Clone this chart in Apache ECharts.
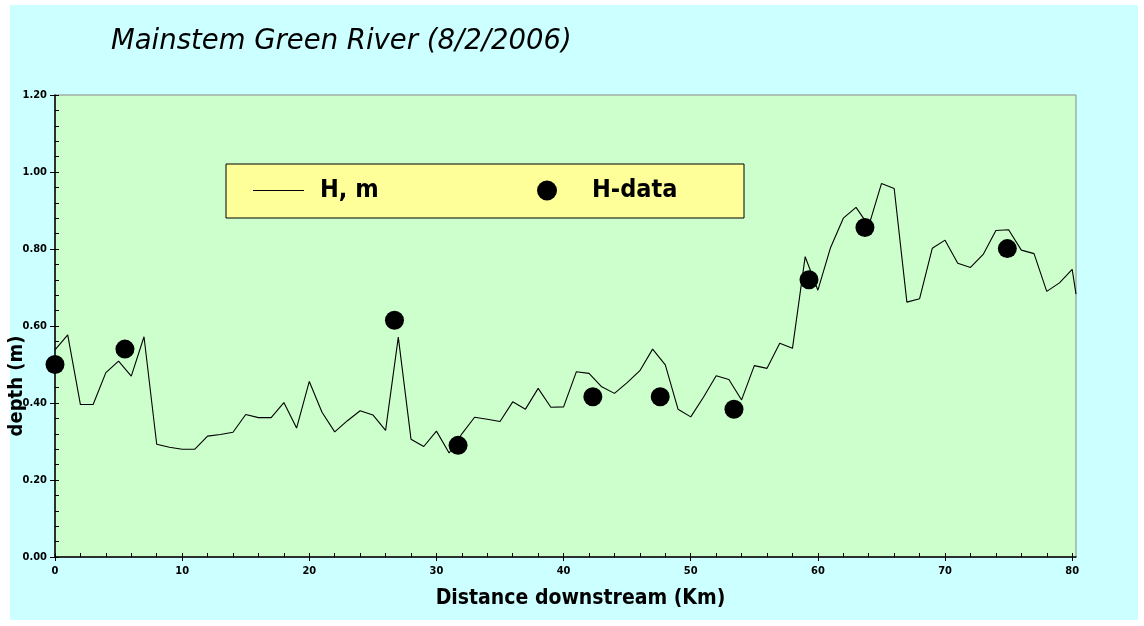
<!DOCTYPE html>
<html>
<head>
<meta charset="utf-8">
<script src="https://cdn.jsdelivr.net/npm/echarts@6/dist/echarts.min.js"></script>
<style>
html,body{margin:0;padding:0;background:#ffffff;}
#chart{width:1144px;height:626px;}
</style>
</head>
<body>
<div id="chart"></div>
<script>
// Simulated depth H, m : [distance km, depth m]
const modelKm = [0,1,2,3,4,5,6,7,8,9,10,11,12,13,14,15,16,17,18,19,20,21,22,23,24,25,26,27,28,29,30,31,32,33,34,35,36,37,38,39,40,41,42,43,44,45,46,47,48,49,50,51,52,53,54,55,56,57,58,59,60,61,62,63,64,65,66,67,68,69,70,71,72,73,74,75,76,77,78,79,80,80.3];
const modelDepth = [0.538,0.577,0.396,0.396,0.479,0.509,0.470,0.572,0.293,0.285,0.280,0.280,0.314,0.318,0.324,0.370,0.362,0.362,0.401,0.335,0.456,0.376,0.325,0.354,0.380,0.369,0.329,0.571,0.306,0.287,0.327,0.270,0.320,0.363,0.358,0.352,0.403,0.384,0.438,0.389,0.390,0.481,0.477,0.442,0.425,0.453,0.484,0.540,0.499,0.384,0.364,0.415,0.471,0.461,0.408,0.497,0.490,0.555,0.542,0.780,0.693,0.804,0.880,0.908,0.860,0.970,0.957,0.662,0.671,0.802,0.823,0.763,0.752,0.786,0.848,0.850,0.797,0.788,0.690,0.712,0.747,0.683];
// Observed depth H-data
const obsKm = [0,5.5,26.7,31.7,42.3,47.6,53.4,59.3,63.7,74.9];
const obsDepth = [0.50,0.54,0.615,0.29,0.416,0.416,0.384,0.720,0.856,0.801];
// Tick values
const xMajorTicks = [0,10,20,30,40,50,60,70,80];
const xMinorTicks = [0,2,4,6,8,10,12,14,16,18,20,22,24,26,28,30,32,34,36,38,40,42,44,46,48,50,52,54,56,58,60,62,64,66,68,70,72,74,76,78,80];
const yMinorTicks = [0,0.04,0.08,0.12,0.16,0.2,0.24,0.28,0.32,0.36,0.4,0.44,0.48,0.52,0.56,0.6,0.64,0.68,0.72,0.76,0.8,0.84,0.88,0.92,0.96,1.0,1.04,1.08,1.12,1.16,1.2];

const titleText = 'Mainstem Green River (8/2/2006)';
const lineName = 'H, m';
const dotName = 'H-data';
const xName = 'Distance downstream (Km)';
const yName = 'depth (m)';

const NARROW = "'Liberation Sans Narrow','Arial Narrow','DejaVu Sans Condensed',sans-serif";

const chart = echarts.init(document.getElementById('chart'), null, {renderer:'canvas'});
const X_MAX = 80.3;
chart.setOption({
  animation: false,
  backgroundColor: '#ffffff',
  graphic: [
    {type:'rect', z:-10, silent:true, shape:{x:10,y:5,width:1128,height:615}, style:{fill:'#CCFFFF'}},
    {type:'rect', z:3, silent:true, shape:{x:226,y:164,width:518,height:54}, style:{fill:'#FFFF99', stroke:'#000000', lineWidth:1}}
  ],
  title: {
    text: titleText, left: 106, top: 23,
    textStyle: {fontFamily:"'DejaVu Sans',Verdana,sans-serif", fontStyle:'italic', fontWeight:'normal', fontSize:27.5, color:'#000'}
  },
  legend: [
    {data:[{name:lineName, icon:'path://M0,0L51,0L51,1L0,1Z', textStyle:{padding:[0,0,0,11]}}], left:253, top:178, padding:0, itemWidth:51, itemHeight:20, z:10,
     itemStyle:{color:'#000', borderWidth:0},
     textStyle:{fontFamily:NARROW, fontWeight:'bold', fontSize:25, color:'#000'}},
    {data:[{name:dotName, icon:'circle', textStyle:{padding:[0,0,0,30]}}], left:537, top:178, padding:0, itemWidth:20, itemHeight:20, z:10,
     itemStyle:{color:'#000', opacity:1},
     textStyle:{fontFamily:NARROW, fontWeight:'bold', fontSize:25, color:'#000'}}
  ],
  grid: {left:55, right:68, top:95, bottom:69, containLabel:false, outerBoundsMode:'none', show:true, backgroundColor:'#CCFFCC', borderColor:'#888888', borderWidth:1},
  xAxis: [
    {type:'value', min:0, max:X_MAX, position:'bottom',
     name:xName, nameLocation:'middle', nameGap:31, nameMoveOverlap:false,
     nameTextStyle:{fontFamily:NARROW, fontWeight:'bold', fontSize:21, color:'#000', padding:[0,0,0,30]},
     axisLine:{show:true, onZero:false, lineStyle:{color:'#000', width:1.5}},
     axisTick:{show:true, inside:false, length:4, customValues:xMajorTicks, lineStyle:{color:'#000'}},
     axisLabel:{customValues:xMajorTicks, margin:9, fontFamily:NARROW, fontWeight:'bold', fontSize:11, color:'#000'},
     splitLine:{show:false}},
    {type:'value', min:0, max:X_MAX, position:'bottom',
     axisLine:{show:false}, axisLabel:{show:false}, splitLine:{show:false},
     axisTick:{show:true, inside:true, length:4, customValues:xMinorTicks, lineStyle:{color:'#000'}}}
  ],
  yAxis: [
    {type:'value', min:0, max:1.2, interval:0.2, position:'left',
     name:yName, nameLocation:'middle', nameGap:28, nameRotate:90, nameMoveOverlap:false,
     nameTextStyle:{fontFamily:NARROW, fontWeight:'bold', fontSize:20, color:'#000', padding:[0,120,0,0]},
     axisLine:{show:true, onZero:false, lineStyle:{color:'#000', width:1.5}},
     axisTick:{show:true, inside:false, length:5, lineStyle:{color:'#000'}},
     axisLabel:{margin:8, formatter:(v)=>v.toFixed(2), fontFamily:NARROW, fontWeight:'bold', fontSize:11, color:'#000'},
     splitLine:{show:false}},
    {type:'value', min:0, max:1.2, position:'left',
     axisLine:{show:false}, axisLabel:{show:false}, splitLine:{show:false},
     axisTick:{show:true, inside:true, length:4, customValues:yMinorTicks, lineStyle:{color:'#000'}}}
  ],
  series: [
    {name:lineName, type:'line', xAxisIndex:0, yAxisIndex:0, symbol:'none', clip:true,
     lineStyle:{color:'#000', width:1.1}, itemStyle:{color:'#000'},
     data: modelKm.map((k,i)=>[k, modelDepth[i]])},
    {name:dotName, type:'scatter', xAxisIndex:0, yAxisIndex:0, symbol:'circle', symbolSize:19,
     itemStyle:{color:'#000', opacity:1}, z:5,
     data: obsKm.map((k,i)=>[k, obsDepth[i]])}
  ]
});
</script>
</body>
</html>
